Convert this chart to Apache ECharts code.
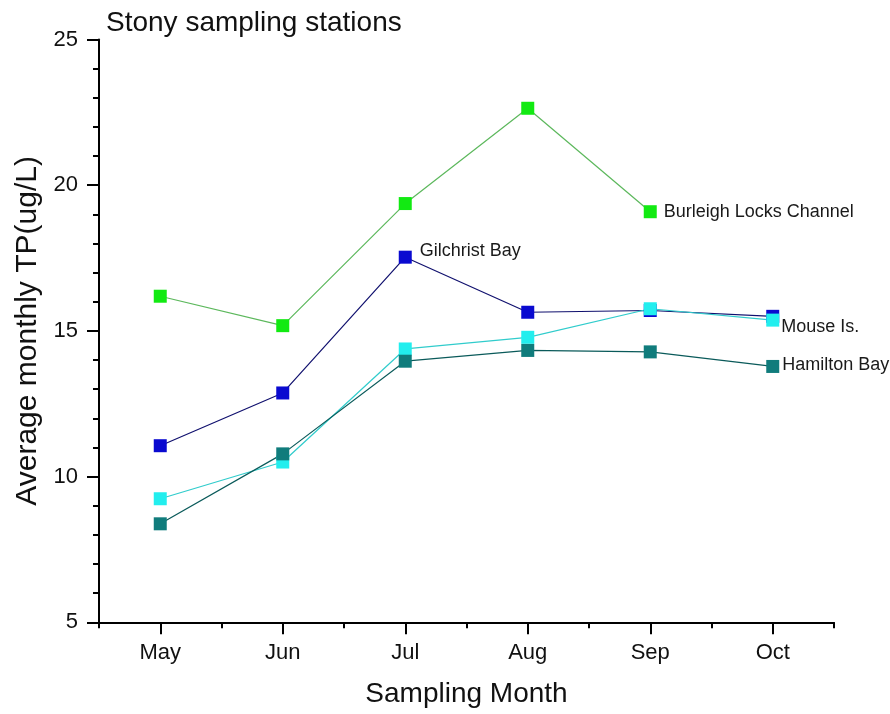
<!DOCTYPE html>
<html>
<head>
<meta charset="utf-8">
<script src="https://cdn.jsdelivr.net/npm/echarts@6/dist/echarts.min.js"></script>
<style>
  html, body { margin: 0; padding: 0; background: #fff; }
  #chart { width: 890px; height: 714px; }
</style>
</head>
<body>
<div id="chart"></div>
<script>
// Monthly average total phosphorus at the Stony sampling stations
const months = ['May', 'Jun', 'Jul', 'Aug', 'Sep', 'Oct'];
const yTicks = [5, 10, 15, 20, 25];

const burleigh  = [16.19, 15.18, 19.37, 22.64, 19.09, null];
const gilchrist = [11.06, 12.87, 17.53, 15.64, 15.70, 15.50];
const mouse     = [9.24, 10.50, 14.38, 14.78, 15.76, 15.37];
const hamilton  = [8.38, 10.78, 13.96, 14.33, 14.28, 13.78];

const FONT = '"Liberation Sans", Arial, sans-serif';

// Build a line series that names itself next to one chosen point
function stationSeries(name, values, markerColor, lineColor, labelIdx, labelOffset, labelDist) {
  return {
    name: name,
    type: 'line',
    symbol: 'rect',
    symbolSize: 13,
    connectNulls: false,
    lineStyle: { color: lineColor, width: 1.2 },
    itemStyle: { color: markerColor },
    emphasis: { disabled: true },
    data: values.map((v, i) => {
      if (i !== labelIdx) return v;
      return {
        value: v,
        label: {
          show: true,
          position: 'right',
          distance: labelDist,
          offset: labelOffset,
          formatter: name,
          color: '#1a1a1a',
          fontFamily: FONT,
          fontSize: 18
        }
      };
    })
  };
}

const chart = echarts.init(document.getElementById('chart'), null, { renderer: 'canvas' });

chart.setOption({
  animation: false,
  backgroundColor: '#ffffff',
  title: {
    text: 'Stony sampling stations',
    left: 101,
    top: 4,
    textStyle: { fontFamily: FONT, fontSize: 28, fontWeight: 'normal', color: '#111' }
  },
  grid: { left: 99, right: 56, top: 39.5, bottom: 91.7 },
  xAxis: [
    {
      type: 'category',
      data: months,
      boundaryGap: true,
      position: 'bottom',
      name: 'Sampling Month',
      nameLocation: 'middle',
      nameGap: 58,
      nameTextStyle: { fontFamily: FONT, fontSize: 28, color: '#111' },
      axisLine: { show: true, lineStyle: { color: '#000', width: 2 } },
      axisTick: { show: true, alignWithLabel: true, length: 12, lineStyle: { color: '#000', width: 2 } },
      axisLabel: { show: true, margin: 20, fontFamily: FONT, fontSize: 22, color: '#111' },
      splitLine: { show: false }
    },
    {
      // boundary ticks between months
      type: 'category',
      data: months,
      boundaryGap: true,
      position: 'bottom',
      offset: 0,
      axisLine: { show: false },
      axisTick: { show: true, alignWithLabel: false, interval: 0, length: 6, lineStyle: { color: '#000', width: 2 } },
      axisLabel: { show: false },
      splitLine: { show: false }
    }
  ],
  yAxis: {
    type: 'value',
    min: yTicks[0],
    max: yTicks[yTicks.length - 1],
    interval: 5,
    name: 'Average monthly TP(ug/L)',
    nameLocation: 'middle',
    nameGap: 56,
    nameTextStyle: { fontFamily: FONT, fontSize: 30, color: '#111' },
    axisLine: { show: true, lineStyle: { color: '#000', width: 2 } },
    axisTick: { show: true, length: 12, lineStyle: { color: '#000', width: 2 } },
    minorTick: { show: true, splitNumber: 5, length: 6, lineStyle: { color: '#000', width: 2 } },
    axisLabel: { margin: 21, fontFamily: FONT, fontSize: 22, color: '#111' },
    splitLine: { show: false },
    minorSplitLine: { show: false }
  },
  series: [
    stationSeries('Burleigh Locks Channel', burleigh, '#12ea12', '#5cb85c', 4, [0, 0], 7),
    stationSeries('Gilchrist Bay', gilchrist, '#0a0ad0', '#10106e', 2, [0, -6], 8),
    stationSeries('Mouse Is.', mouse, '#22eeee', '#30cccc', 5, [0, 7], 2),
    stationSeries('Hamilton Bay', hamilton, '#107c7c', '#0a5a5a', 5, [0, -1], 3)
  ]
});
</script>
</body>
</html>
